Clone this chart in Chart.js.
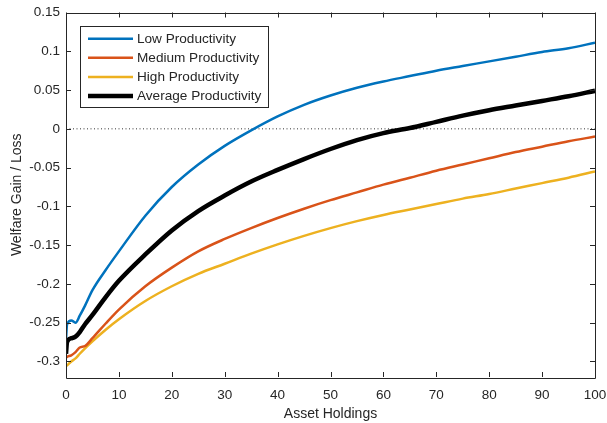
<!DOCTYPE html>
<html>
<head>
<meta charset="utf-8">
<script src="https://cdn.jsdelivr.net/npm/chart.js@4/dist/chart.umd.min.js"></script>
<style>
  html, body { margin: 0; padding: 0; background: #fff; }
  #wrap { width: 607px; height: 423px; }
</style>
</head>
<body>
<div id="wrap"><canvas id="grafico"></canvas></div>
<script>
// asset grid shared by all curves
const assetHoldings = [0, 0.2, 1, 1.8, 2.6, 3.6, 5, 7.5, 10, 15, 20, 25, 30, 35, 40, 45, 50, 55, 60, 65, 70, 75, 80, 85, 90, 95, 100];

const lowProd = [-0.272, -0.252, -0.247, -0.250, -0.241, -0.228, -0.208, -0.182, -0.158, -0.112, -0.075, -0.046, -0.022, -0.002,
  0.016, 0.031, 0.043, 0.053, 0.061, 0.068, 0.075, 0.081, 0.087, 0.093, 0.099, 0.104, 0.111];
const mediumProd = [-0.295, -0.294, -0.292, -0.288, -0.282, -0.280, -0.270, -0.251, -0.233, -0.203, -0.179, -0.158, -0.142, -0.128,
  -0.115, -0.103, -0.092, -0.082, -0.072, -0.063, -0.054, -0.046, -0.038, -0.030, -0.023, -0.016, -0.010];
const highProd = [-0.306, -0.305, -0.300, -0.296, -0.290, -0.283, -0.274, -0.259, -0.2455, -0.222, -0.203, -0.187, -0.174, -0.161,
  -0.149, -0.138, -0.128, -0.119, -0.111, -0.104, -0.097, -0.090, -0.084, -0.077, -0.070, -0.063, -0.055];
const averageProd = [-0.290, -0.275, -0.270, -0.268, -0.262, -0.252, -0.240, -0.217, -0.196, -0.162, -0.131, -0.106, -0.086, -0.068,
  -0.053, -0.039, -0.026, -0.0145, -0.0055, 0.001, 0.009, 0.017, 0.024, 0.030, 0.036, 0.042, 0.049];

const seriesNames = ['Low Productivity', 'Medium Productivity', 'High Productivity', 'Average Productivity'];
const yTickValues = [-0.3, -0.25, -0.2, -0.15, -0.1, -0.05, 0, 0.05, 0.1, 0.15];
const xTickValues = [0, 10, 20, 30, 40, 50, 60, 70, 80, 90, 100];

const FONTE = "'Liberation Sans', Arial, Helvetica, sans-serif";
const COR_EIXO = '#262626';

const pontos = valores => assetHoldings.map((x, i) => ({ x: x, y: valores[i] }));

const estilos = [
  { cor: '#0072BD', largura: 2.5, ordem: 1 },
  { cor: '#D95319', largura: 2.5, ordem: 2 },
  { cor: '#EDB120', largura: 2.5, ordem: 3 },
  { cor: '#000000', largura: 4.5, ordem: 0 }
];

const datasets = [lowProd, mediumProd, highProd, averageProd].map((serie, i) => ({
  label: seriesNames[i],
  data: pontos(serie),
  borderColor: estilos[i].cor,
  borderWidth: estilos[i].largura,
  order: estilos[i].ordem,
  pointRadius: 0,
  fill: false,
  cubicInterpolationMode: 'monotone'
}));

// dotted zero reference line
datasets.push({
  label: 'zero',
  data: [{ x: 0, y: 0 }, { x: 100, y: 0 }],
  borderColor: '#333333',
  borderWidth: 1,
  borderDash: [1, 2.5],
  order: 5,
  pointRadius: 0,
  fill: false
});

// box around the axes with inward tick marks on all four sides
const pluginMoldura = {
  id: 'pluginMoldura',
  afterDatasetsDraw(chart) {
    const { ctx, chartArea: { left, right, top, bottom }, scales: { x, y } } = chart;
    const tam = 5;
    ctx.save();
    ctx.strokeStyle = COR_EIXO;
    ctx.lineWidth = 1;
    ctx.beginPath();
    ctx.rect(Math.round(left) + 0.5, Math.round(top) + 0.5, Math.round(right - left), Math.round(bottom - top));
    xTickValues.forEach(v => {
      const px = Math.round(x.getPixelForValue(v)) + 0.5;
      ctx.moveTo(px, bottom); ctx.lineTo(px, bottom - tam);
      ctx.moveTo(px, top); ctx.lineTo(px, top + tam);
    });
    yTickValues.forEach(v => {
      const py = Math.round(y.getPixelForValue(v)) + 0.5;
      ctx.moveTo(left, py); ctx.lineTo(left + tam, py);
      ctx.moveTo(right, py); ctx.lineTo(right - tam, py);
    });
    ctx.stroke();
    ctx.restore();
  }
};

// legend box in the upper left corner
const pluginLegenda = {
  id: 'pluginLegenda',
  afterDraw(chart) {
    const { ctx, chartArea } = chart;
    const esquerda = chartArea.left + 14;
    const topo = chartArea.top + 13.5;
    const altLinha = 19.1;
    ctx.save();
    ctx.font = `13.6px ${FONTE}`;
    const larguraTexto = Math.max(...seriesNames.map(n => ctx.measureText(n).width));
    const largura = 8 + 45 + 4 + larguraTexto + 7;
    const altura = 24 + altLinha * (seriesNames.length - 1);
    ctx.fillStyle = '#fff';
    ctx.fillRect(esquerda, topo, largura, altura);
    ctx.strokeStyle = COR_EIXO;
    ctx.lineWidth = 1;
    ctx.strokeRect(Math.round(esquerda) + 0.5, Math.round(topo) + 0.5, Math.round(largura), Math.round(altura));
    ctx.textBaseline = 'middle';
    ctx.textAlign = 'left';
    seriesNames.forEach((nome, i) => {
      const yLinha = topo + 12.7 + i * altLinha;
      ctx.strokeStyle = estilos[i].cor;
      ctx.lineWidth = estilos[i].largura;
      ctx.beginPath();
      ctx.moveTo(esquerda + 8, yLinha);
      ctx.lineTo(esquerda + 53, yLinha);
      ctx.stroke();
      ctx.fillStyle = COR_EIXO;
      ctx.fillText(nome, esquerda + 57, yLinha + 0.5);
    });
    ctx.restore();
  }
};

new Chart(document.getElementById('grafico'), {
  type: 'line',
  data: { datasets: datasets },
  options: {
    responsive: true,
    maintainAspectRatio: false,
    animation: false,
    devicePixelRatio: 1,
    layout: { padding: { top: 12.5, right: 12, left: 0, bottom: 0 } },
    plugins: {
      legend: { display: false },
      tooltip: { enabled: false }
    },
    scales: {
      x: {
        type: 'linear',
        min: 0,
        max: 100,
        afterBuildTicks: scale => { scale.ticks = xTickValues.map(v => ({ value: v })); },
        afterFit: scale => {
          scale.height = 46;
          scale.paddingLeft = 0;
          scale.paddingRight = 0;
        },
        grid: { display: false, drawTicks: false },
        border: { display: false },
        ticks: {
          padding: 10,
          color: COR_EIXO,
          font: { family: FONTE, size: 13.5 },
          maxRotation: 0,
          callback: v => String(v)
        },
        title: {
          display: true,
          text: 'Asset Holdings',
          color: COR_EIXO,
          font: { family: FONTE, size: 14 },
          padding: { top: 0, bottom: 0 }
        }
      },
      y: {
        type: 'linear',
        min: -0.32,
        max: 0.15,
        afterBuildTicks: scale => { scale.ticks = yTickValues.map(v => ({ value: v })); },
        afterFit: scale => {
          scale.width = 66;
          scale.paddingTop = 0;
          scale.paddingBottom = 0;
        },
        grid: { display: false, drawTicks: false },
        border: { display: false },
        ticks: {
          padding: 6,
          color: COR_EIXO,
          font: { family: FONTE, size: 13.5 },
          callback: v => String(+v.toFixed(2))
        },
        title: {
          display: true,
          text: 'Welfare Gain / Loss',
          color: COR_EIXO,
          font: { family: FONTE, size: 14 },
          padding: { top: 9, bottom: 0 }
        }
      }
    }
  },
  plugins: [pluginMoldura, pluginLegenda]
});
</script>
</body>
</html>
